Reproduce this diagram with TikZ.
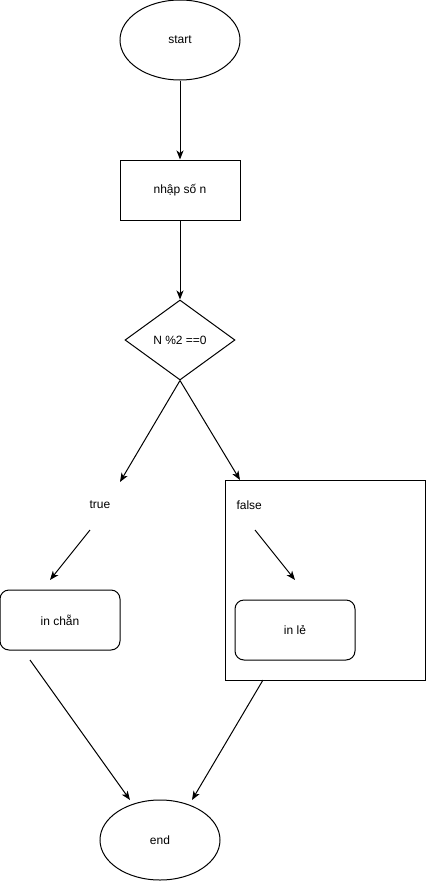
\documentclass[tikz,border=0pt]{standalone}
\usepackage{fontspec}
\setmainfont{Liberation Sans}
\usetikzlibrary{shapes.geometric, arrows.meta, positioning}

\begin{document}
\begin{tikzpicture}[
    x=1pt, y=-1pt,
    line width=1pt,
    every node/.style={font=\fontsize{12}{14}\selectfont, inner sep=0pt},
    terminal/.style={draw, ellipse, minimum width=120pt, minimum height=80pt},
    process/.style={draw, rectangle, minimum width=120pt, minimum height=60pt},
    decision/.style={draw, diamond, minimum width=110pt, minimum height=80pt},
    output/.style={draw, rectangle, rounded corners=9pt, minimum width=120pt, minimum height=60pt},
    flow/.style={-{Stealth[length=9pt, width=7pt, inset=2.5pt]}}
]
    \useasboundingbox (0,0) rectangle (426,881);

    % Main column
    \node[terminal] (start) at (180,40) {start};
    \node[process] (input) at (180,190) {nhập số n};
    \node[decision] (check) at (180,340) {N \%2 ==0};
    \draw[flow] (start) -- (input);
    \draw[flow] (input) -- (check);

    % Branch: true
    \coordinate (trueEnd) at (120,482);
    \node (trueLbl) at (100,505) {true};
    \coordinate (trueFrom) at (90,530);
    \coordinate (trueTo) at (50,580);
    \node[output] (even) at (60,620) {in chẵn};
    \draw[flow] (check.south) -- (trueEnd);
    \draw[flow] (trueFrom) -- (trueTo);

    % Branch: false
    \node[draw, rectangle, minimum width=200pt, minimum height=200pt] (falseBox) at (325.5,580) {};
    \coordinate (falseEnd) at (240,480);
    \node[anchor=west] (falseLbl) at (236,505) {false};
    \coordinate (falseFrom) at (255,530);
    \coordinate (falseTo) at (295,580);
    \node[output] (odd) at (295,630) {in lẻ};
    \draw[flow] (check.south) -- (falseEnd);
    \draw[flow] (falseFrom) -- (falseTo);

    % End
    \node[terminal] (stop) at (160,840) {end};
    \coordinate (evenOut) at (30,660);
    \coordinate (falseOut) at (263,680);
    \coordinate (stopLeft) at (130,800);
    \coordinate (stopRight) at (192,800);
    \draw[flow] (evenOut) -- (stopLeft);
    \draw[flow] (falseOut) -- (stopRight);
\end{tikzpicture}
\end{document}
